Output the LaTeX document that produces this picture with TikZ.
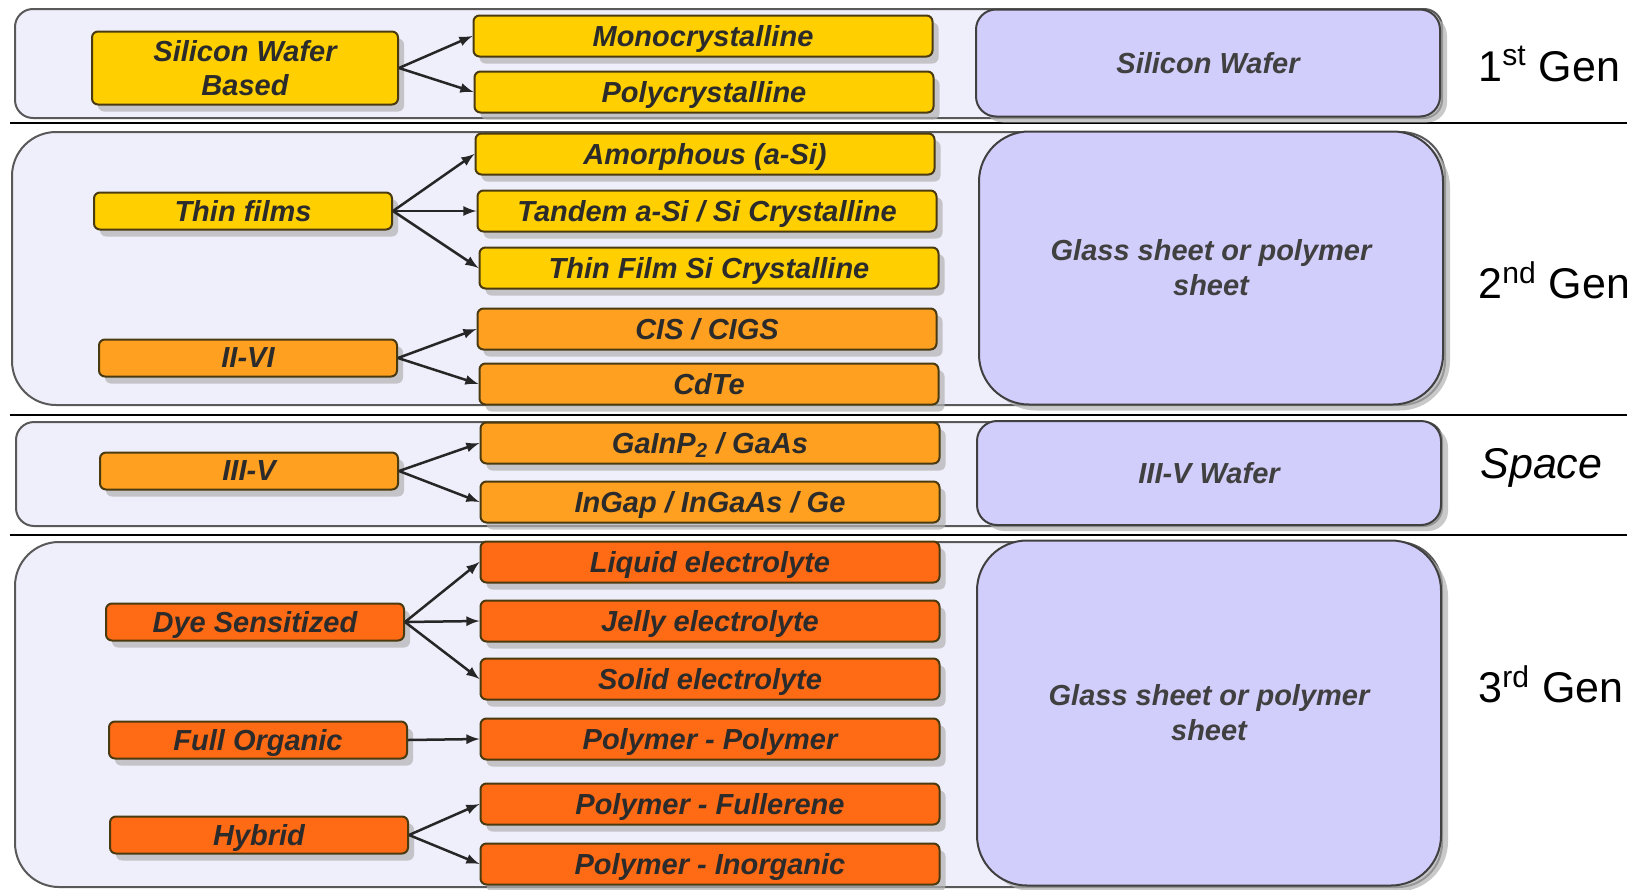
\documentclass[tikz,border=0pt]{standalone}
\usepackage{fontspec}
\setmainfont{Liberation Sans}
\usepackage{tikz}
\usetikzlibrary{arrows, shadows}

\definecolor{panelfill}{HTML}{EFEEFB}
\definecolor{waferfill}{HTML}{D2CEFB}
\definecolor{gold}{HTML}{FFCF00}
\definecolor{amber}{HTML}{FFA020}
\definecolor{tangerine}{HTML}{FF6A14}
\definecolor{edgebrown}{HTML}{4A3A10}
\definecolor{inktext}{HTML}{2B2B2B}

\begin{document}
\begin{tikzpicture}[x=0.5pt, y=-0.5pt,
  box/.style={draw=edgebrown, line width=1pt, rounded corners=3pt, inner sep=0pt,
    font=\fontsize{14.5}{17}\selectfont\bfseries\itshape, text=inktext,
    drop shadow={shadow xshift=3pt, shadow yshift=-3.5pt, fill=black!30, opacity=0.7}},
  kind/.style={box, minimum width=149pt, minimum height=18.5pt, text depth=0pt},
  leaf/.style={box, minimum width=229.5pt, minimum height=20.5pt, text depth=0pt},
  wafer/.style={draw=black!75, line width=1pt, fill=waferfill, inner sep=0pt,
    minimum width=232pt, align=center, text=black!75,
    font=\fontsize{14.5}{17.5}\selectfont\bfseries\itshape,
    drop shadow={shadow xshift=3.5pt, shadow yshift=-3pt, fill=black!30, opacity=0.7}},
  panel/.style={draw=black!65, line width=1pt, fill=panelfill},
  gen/.style={anchor=west, inner sep=0pt, font=\fontsize{21.5}{24}\selectfont},
  link/.style={-latex, line width=1.25pt, black!85}]
  \useasboundingbox (0,0) rectangle (1627,889);

  % Separators between generations
  \draw[line width=1pt] (10,123) -- (1627,123);
  \draw[line width=1pt] (10,415) -- (1627,415);
  \draw[line width=1pt] (10,535) -- (1627,535);

  % Generation panels
  \draw[panel, rounded corners=9pt] (15,9) rectangle (1442,118);
  \draw[panel, rounded corners=22pt] (12,132) rectangle (1445,405);
  \draw[panel, rounded corners=9pt] (16,422) rectangle (1442,526);
  \draw[panel, rounded corners=22pt] (15,542) rectangle (1442,887);

  % Substrates
  \node[wafer, rounded corners=10pt, minimum height=53.5pt] (subone) at (1208,63) {Silicon Wafer};
  \node[wafer, rounded corners=25pt, minimum height=136.5pt] (subtwo) at (1211,268) {Glass sheet or polymer\\sheet};
  \node[wafer, rounded corners=10pt, minimum height=52pt] (subthree) at (1209,473) {III-V Wafer};
  \node[wafer, rounded corners=25pt, minimum height=172.5pt] (subfour) at (1209,713) {Glass sheet or polymer\\sheet};

  % 1st generation
  \node[box, fill=gold, align=center, minimum width=153pt, minimum height=36.5pt] (swb) at (245,68) {Silicon Wafer\\Based};
  \node[leaf, fill=gold] (mono) at (703,36) {Monocrystalline};
  \node[leaf, fill=gold] (poly) at (704,92) {Polycrystalline};
  \draw[link] (swb.east) -- (mono.west);
  \draw[link] (swb.east) -- (poly.west);

  % 2nd generation
  \node[kind, fill=gold] (thin) at (243,211) {Thin films};
  \node[leaf, fill=gold] (amor) at (705,154) {Amorphous (a-Si)};
  \node[leaf, fill=gold] (tandem) at (707,211) {Tandem a-Si / Si Crystalline};
  \node[leaf, fill=gold] (tfsi) at (709,268) {Thin Film Si Crystalline};
  \draw[link] (thin.east) -- (amor.west);
  \draw[link] (thin.east) -- (tandem.west);
  \draw[link] (thin.east) -- (tfsi.west);

  \node[kind, fill=amber] (twosix) at (248,358) {II-VI};
  \node[leaf, fill=amber] (cigs) at (707,329) {CIS / CIGS};
  \node[leaf, fill=amber] (cdte) at (709,384) {CdTe};
  \draw[link] (twosix.east) -- (cigs.west);
  \draw[link] (twosix.east) -- (cdte.west);

  % Space
  \node[kind, fill=amber] (threefive) at (249,471) {III-V};
  \node[leaf, fill=amber] (gainp) at (710,443) {GaInP\textsubscript{2} / GaAs};
  \node[leaf, fill=amber] (ingap) at (710,502) {InGap / InGaAs / Ge};
  \draw[link] (threefive.east) -- (gainp.west);
  \draw[link] (threefive.east) -- (ingap.west);

  % 3rd generation
  \node[kind, fill=tangerine] (dye) at (255,622) {Dye Sensitized};
  \node[leaf, fill=tangerine] (liquid) at (710,562) {Liquid electrolyte};
  \node[leaf, fill=tangerine] (jelly) at (710,621) {Jelly electrolyte};
  \node[leaf, fill=tangerine] (solid) at (710,679) {Solid electrolyte};
  \draw[link] (dye.east) -- (liquid.west);
  \draw[link] (dye.east) -- (jelly.west);
  \draw[link] (dye.east) -- (solid.west);

  \node[kind, fill=tangerine] (organic) at (258,740) {Full Organic};
  \node[leaf, fill=tangerine] (polpol) at (710,739) {Polymer - Polymer};
  \draw[link] (organic.east) -- (polpol.west);

  \node[kind, fill=tangerine] (hybrid) at (259,835) {Hybrid};
  \node[leaf, fill=tangerine] (fullerene) at (710,804) {Polymer - Fullerene};
  \node[leaf, fill=tangerine] (inorganic) at (710,864) {Polymer - Inorganic};
  \draw[link] (hybrid.east) -- (fullerene.west);
  \draw[link] (hybrid.east) -- (inorganic.west);

  % Generation labels
  \node[gen] (genone) at (1478,64) {1\textsuperscript{st} Gen};
  \node[gen] (gentwo) at (1478,280) {2\textsuperscript{nd} Gen};
  \node[gen, font=\fontsize{21.5}{24}\selectfont\itshape] (genspace) at (1480,468) {Space};
  \node[gen] (genthree) at (1478,684) {3\textsuperscript{rd} Gen};
\end{tikzpicture}
\end{document}
